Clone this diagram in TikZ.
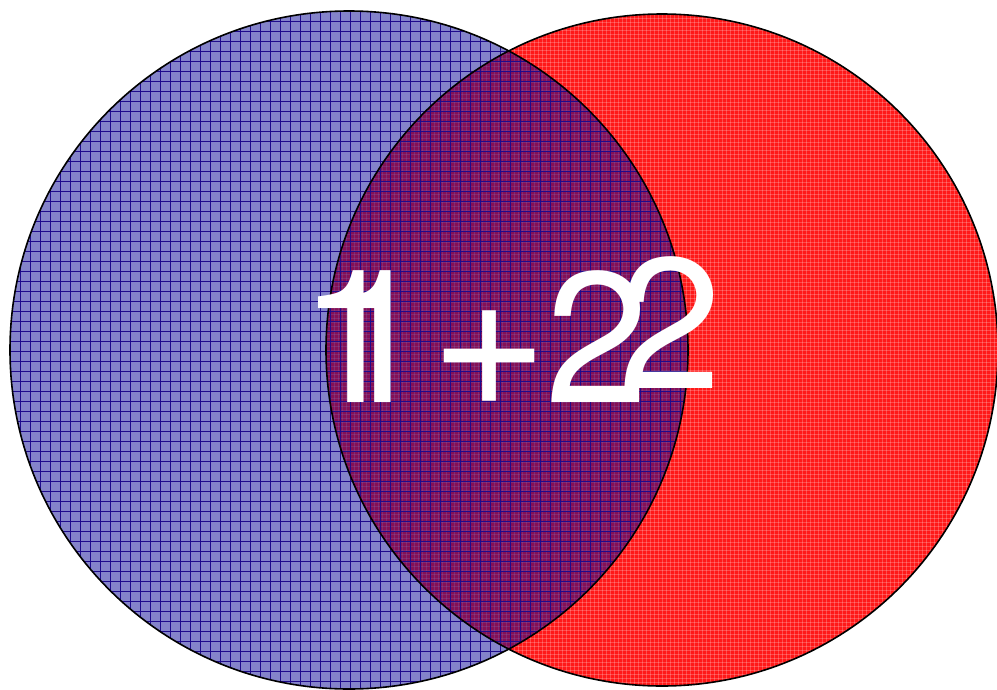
\documentclass[tikz,border=0pt]{standalone}
\usepackage{fontspec}
\newfontfamily\setfont{TeX Gyre Heros}
\usetikzlibrary{positioning}
\definecolor{setred}{RGB}{255,25,25}
\definecolor{setblue}{RGB}{10,8,150}
\definecolor{gridblue}{RGB}{30,10,140}
\tikzset{
  outline/.style={draw=black,line width=1.6pt},
  gridline/.style={gridblue,line width=0.5pt},
  dotline/.style={white,opacity=0.22,line width=1pt},
  digit/.style={white,inner sep=0pt,anchor=base west,font=\setfont\fontsize{186}{186}\selectfont},
  bigsign/.style={digit,font=\setfont\fontsize{202}{202}\selectfont}
}

\begin{document}
\begin{tikzpicture}[x=1pt,y=-1pt]
  \useasboundingbox (0,0) rectangle (997,689);
  \fill[white] (0,0) rectangle (997,689);
  % right set, fine texture
  \fill[setred] (662,350) circle (336);
  \begin{scope}
    \clip (662,350) circle (336);
    \foreach \x in {326,330,...,998} \draw[dotline] (\x,10) -- (\x,689);
    \foreach \y in {14,18,...,686} \draw[dotline] (320,\y) -- (997,\y);
  \end{scope}
  % left set, see-through with grid
  \fill[setblue,opacity=0.5] (349,350) circle (339);
  \begin{scope}
    \clip (349,350) circle (339);
    \foreach \x in {10,20,...,690} \draw[gridline] (\x,0) -- (\x,689);
    \foreach \y in {11,21,...,689} \draw[gridline] (0,\y) -- (700,\y);
  \end{scope}
  \draw[outline] (662,350) circle (336);
  \draw[outline] (349,350) circle (339);
  % label, printed twice
  \node[digit] (one) at (299.2,402) {1};
  \node[digit] (oneb) at (326.2,402) {1};
  \node[bigsign] (plus) at (430.7,406) {+};
  \node[digit] (two) at (545.2,402) {2};
  \node[digit] (twob) at (618.2,388) {2};
\end{tikzpicture}
\end{document}
